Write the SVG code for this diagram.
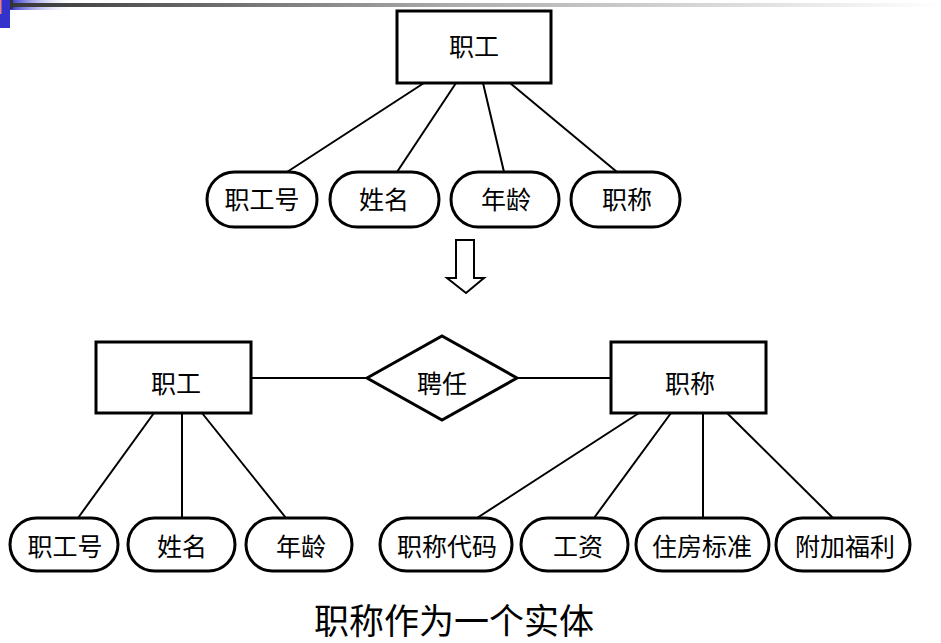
<svg xmlns="http://www.w3.org/2000/svg" width="941" height="643" viewBox="0 0 941 643">
<defs>
<linearGradient id="hdr" x1="0" y1="0" x2="1" y2="0">
<stop offset="0" stop-color="#333"/>
<stop offset="0.5" stop-color="#b0b0b0"/>
<stop offset="1" stop-color="#fff"/>
</linearGradient>
<linearGradient id="blu" x1="0" y1="0" x2="1" y2="0">
<stop offset="0" stop-color="#3333cc"/>
<stop offset="1" stop-color="#fff" stop-opacity="0"/>
</linearGradient>
<style>
.ent{fill:#fff;stroke:#000;stroke-width:3}
.att{fill:#fff;stroke:#000;stroke-width:3}
.ln{stroke:#000;stroke-width:2;fill:none}
.t{font-family:"Liberation Serif","Noto Sans CJK SC",serif;font-size:25px;fill:#000;text-anchor:middle;dominant-baseline:central}
.title{font-family:"Noto Sans CJK SC",sans-serif;font-size:35px;fill:#000;text-anchor:middle}
</style>
</defs>
<rect width="941" height="643" fill="#fff"/>
<!-- header decoration -->
<rect x="10" y="0" width="65" height="10" fill="url(#blu)"/>
<rect x="0" y="3" width="941" height="4" fill="url(#hdr)"/>
<rect x="0" y="0" width="10" height="28" fill="#3333cc"/>
<rect x="0" y="0" width="1.5" height="14" fill="#f08080"/>
<rect x="10" y="0" width="3" height="9" fill="#333"/>

<g id="connectors">
<line class="ln" x1="424" y1="83" x2="287" y2="172"/>
<line class="ln" x1="456" y1="83" x2="397" y2="172"/>
<line class="ln" x1="483" y1="83" x2="504" y2="172"/>
<line class="ln" x1="510" y1="83" x2="617" y2="172"/>
<line class="ln" x1="251" y1="378" x2="367" y2="378"/>
<line class="ln" x1="517" y1="378" x2="611" y2="378"/>
<line class="ln" x1="154" y1="413" x2="78" y2="518"/>
<line class="ln" x1="182" y1="413" x2="182" y2="518"/>
<line class="ln" x1="202" y1="413" x2="286" y2="518"/>
<line class="ln" x1="639" y1="413" x2="477" y2="518"/>
<line class="ln" x1="671" y1="413" x2="594" y2="518"/>
<line class="ln" x1="703" y1="413" x2="703" y2="518"/>
<line class="ln" x1="727" y1="413" x2="833" y2="518"/>
</g>

<g id="arrow">
<path d="M456,240 H474 V278 H484 L466,293 L447,278 H456 Z" fill="#fff" stroke="#000" stroke-width="2"/>
</g>

<g id="e-top-zhigong"><rect class="ent" x="397" y="11" width="154" height="72"/><text class="t" x="474" y="47">职工</text></g>
<g id="a-top-zhigonghao"><rect class="att" x="207" y="172" width="110" height="55" rx="27.5"/><text class="t" x="262" y="200">职工号</text></g>
<g id="a-top-xingming"><rect class="att" x="330" y="172" width="109" height="55" rx="27.5"/><text class="t" x="384" y="200">姓名</text></g>
<g id="a-top-nianling"><rect class="att" x="451" y="172" width="108" height="55" rx="27.5"/><text class="t" x="506" y="200">年龄</text></g>
<g id="a-top-zhicheng"><rect class="att" x="571" y="172" width="109" height="55" rx="27.5"/><text class="t" x="627" y="200">职称</text></g>

<g id="e-zhigong"><rect class="ent" x="96" y="342" width="155" height="71"/><text class="t" x="176" y="384">职工</text></g>
<g id="r-pinren"><polygon points="367,378 442,336 517,378 442,420" fill="#fff" stroke="#000" stroke-width="3"/><text class="t" x="442" y="384">聘任</text></g>
<g id="e-zhicheng"><rect class="ent" x="611" y="342" width="155" height="71"/><text class="t" x="690" y="384">职称</text></g>

<g id="a-zhigonghao"><rect class="att" x="10" y="518" width="108" height="53" rx="26.5"/><text class="t" x="65" y="547">职工号</text></g>
<g id="a-xingming"><rect class="att" x="128" y="518" width="107" height="53" rx="26.5"/><text class="t" x="182" y="547">姓名</text></g>
<g id="a-nianling"><rect class="att" x="246" y="518" width="106" height="53" rx="26.5"/><text class="t" x="301" y="547">年龄</text></g>
<g id="a-zhichengdaima"><rect class="att" x="380" y="518" width="132" height="53" rx="26.5"/><text class="t" x="447" y="547">职称代码</text></g>
<g id="a-gongzi"><rect class="att" x="521" y="518" width="107" height="53" rx="26.5"/><text class="t" x="578" y="547">工资</text></g>
<g id="a-zhufang"><rect class="att" x="636" y="518" width="133" height="53" rx="26.5"/><text class="t" x="702" y="547">住房标准</text></g>
<g id="a-fujia"><rect class="att" x="776" y="518" width="134" height="53" rx="26.5"/><text class="t" x="845" y="547">附加福利</text></g>

<text class="title" x="454" y="634">职称作为一个实体</text>
</svg>
